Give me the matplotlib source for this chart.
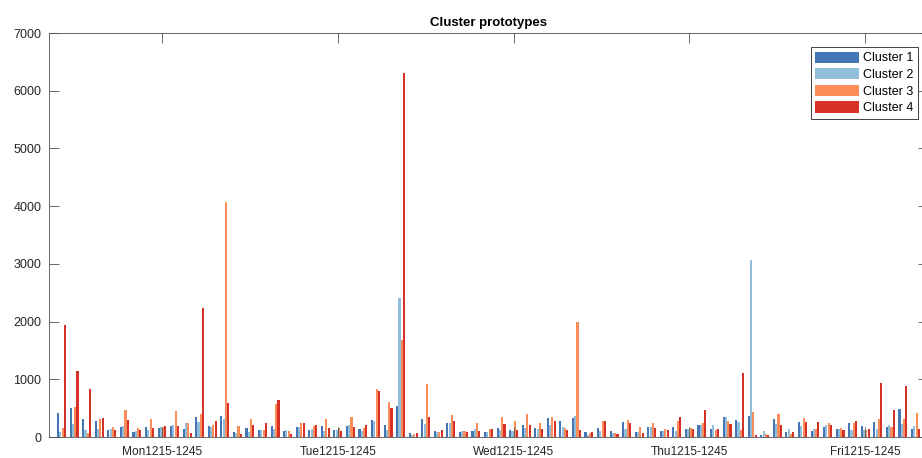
import numpy as np
import matplotlib
matplotlib.use('Agg')
import matplotlib.pyplot as plt

plt.rcParams['font.family'] = ['Liberation Sans', 'DejaVu Sans']

# Mean demand per half-hour slot (Mon 08:15 ... Fri), one list per cluster
cluster1 = [410, 503, 318, 283, 116, 168, 92, 179, 162, 196, 139, 347, 185, 360,
            80, 160, 118, 193, 100, 170, 113, 193, 118, 182, 130, 298, 208, 540,
            72, 318, 101, 240, 95, 110, 90, 159, 124, 208, 150, 326, 280, 329,
            90, 159, 107, 263, 95, 170, 107, 176, 147, 211, 147, 347, 286, 361,
            43, 318, 90, 263, 107, 176, 139, 243, 194, 263, 179, 485, 147]
cluster2 = [92, 231, 116, 139, 133, 185, 104, 116, 179, 202, 243, 260, 165, 318,
            63, 92, 118, 147, 124, 170, 147, 107, 118, 214, 104, 272, 121, 2400,
            38, 231, 80, 240, 107, 141, 90, 113, 104, 159, 147, 211, 179, 361,
            38, 107, 72, 139, 90, 170, 101, 101, 130, 208, 202, 338, 257, 3060,
            107, 228, 145, 191, 147, 208, 136, 124, 115, 136, 214, 228, 191]
cluster3 = [162, 526, 75, 306, 173, 468, 156, 318, 179, 450, 243, 399, 210, 4080,
            194, 315, 116, 565, 104, 248, 185, 315, 159, 338, 159, 838, 612, 1680,
            58, 925, 78, 387, 101, 234, 145, 338, 280, 396, 245, 344, 156, 2000,
            63, 275, 66, 292, 176, 237, 136, 280, 153, 240, 127, 269, 124, 425,
            49, 396, 52, 326, 147, 243, 159, 251, 118, 306, 165, 309, 410]
cluster4 = [1936, 1138, 826, 329, 116, 295, 127, 162, 191, 185, 64, 2240, 272, 595,
            46, 210, 240, 635, 55, 237, 205, 153, 107, 170, 205, 803, 500, 6300,
            61, 341, 115, 280, 78, 110, 139, 217, 113, 211, 136, 280, 121, 118,
            78, 275, 55, 245, 70, 162, 127, 344, 136, 465, 133, 222, 1112, 35,
            35, 211, 90, 260, 263, 211, 127, 283, 139, 927, 470, 887, 136]

series = [cluster1, cluster2, cluster3, cluster4]
names = ['Cluster 1', 'Cluster 2', 'Cluster 3', 'Cluster 4']
colors = ['#4575b4', '#91bfdb', '#fc8d59', '#d73027']

tick_pos = [9, 23, 37, 51, 65]
tick_labels = ['Mon1215-1245', 'Tue1215-1245', 'Wed1215-1245',
               'Thu1215-1245', 'Fri1215-1245']

n = len(cluster1)
x = np.arange(1, n + 1)

fig = plt.figure(figsize=(9.22, 4.58), dpi=100)
# axes runs slightly past the right edge of the canvas
ax = fig.add_axes([49 / 922, 21 / 458, 879 / 922, 404 / 458])

# grouped bars, MATLAB-style spacing
group_w = min(0.8, 4 / 5.5)
step = group_w / 4
for k, (vals, name, c) in enumerate(zip(series, names, colors)):
    off = (k - 1.5) * step
    ax.bar(x + off, vals, width=step * 0.92, color=c, label=name,
           edgecolor='none')

ax.set_xlim(0, 70)
ax.set_ylim(0, 7000)
ax.set_yticks(np.arange(0, 7001, 1000))
ax.set_xticks(tick_pos)
ax.set_xticklabels(tick_labels)
ax.tick_params(direction='in', length=7, width=0.6, color='#505050',
               labelsize=9, top=True, right=True, labelcolor='#262626')
ax.tick_params(axis='x', labelsize=8.6, pad=6.5)
ax.tick_params(axis='y', pad=5.5)
for s in ax.spines.values():
    s.set_color('#505050')
    s.set_linewidth(0.6)

ax.set_title('Cluster prototypes', fontsize=9.5, fontweight='bold', pad=5)

leg = ax.legend(loc='upper right', bbox_to_anchor=(869 / 879, 0.965),
                fontsize=9, handlelength=3.5, handleheight=1.0,
                handletextpad=0.35, labelspacing=0.3, borderpad=0.35,
                borderaxespad=0, fancybox=False, framealpha=1)
leg.get_frame().set_edgecolor('#404040')
leg.get_frame().set_linewidth(0.7)

fig.savefig('out.png', dpi=100)
